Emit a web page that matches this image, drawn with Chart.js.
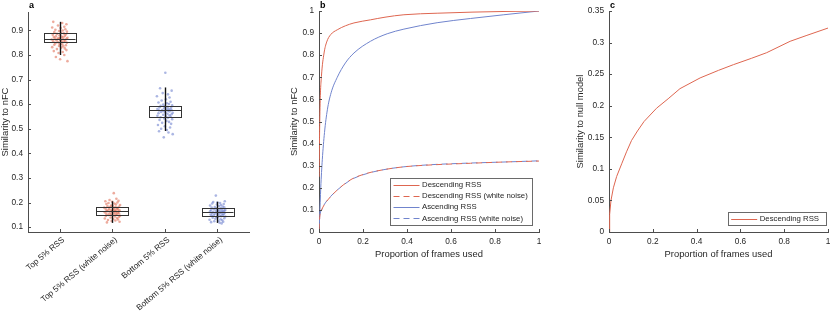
<!DOCTYPE html>
<html><head><meta charset="utf-8">
<script src="https://cdn.jsdelivr.net/npm/chart.js@4.4.1/dist/chart.umd.min.js"></script>
<style>
html,body{margin:0;padding:0;background:#fff;}
#wrap{position:relative;width:830px;height:319px;overflow:hidden;background:#fff;}
canvas{position:absolute;top:0;}
</style></head><body>
<div id="wrap">
<canvas id="ca" width="270" height="319" style="left:0px"></canvas>
<canvas id="cb" width="280" height="319" style="left:270px"></canvas>
<canvas id="cc" width="280" height="319" style="left:550px"></canvas>
</div>
<script>
// ---------- Panel a data ----------
const categories = ["Top 5% RSS", "Top 5% RSS (white noise)", "Bottom 5% RSS", "Bottom 5% RSS (white noise)"];
const catPositions = [1, 2, 3, 4];
const boxQ1  = [0.850, 0.148, 0.547, 0.147];
const boxMed = [0.867, 0.167, 0.575, 0.162];
const boxQ3  = [0.888, 0.181, 0.592, 0.178];
const boxLo  = [0.800, 0.117, 0.491, 0.117];
const boxHi  = [0.935, 0.205, 0.668, 0.203];
const jitter = [-0.12,0.05,0.13,-0.03,0.09,-0.14,0.02,0.11,-0.08,0.06,-0.01,0.14,-0.1,0.03,0.08,-0.05,0.12,-0.13,0.0,0.1,-0.07,0.04,-0.11,0.07,0.15,-0.02,0.01,-0.09,0.13,-0.04,0.06,-0.15,0.09,0.02,-0.06,0.11,-0.12,0.04,0.08,-0.03,0.14,-0.08,0.0,0.05,-0.1,0.12,-0.01,0.07,-0.14,0.03,0.1,-0.05,0.13,-0.11,0.06,-0.02,0.09,-0.07,0.01,0.15];
const topRSS = [0.935,0.93,0.925,0.92,0.915,0.912,0.91,0.905,0.903,0.9,0.898,0.895,0.893,0.89,0.888,0.886,0.884,0.882,0.88,0.878,0.876,0.875,0.873,0.872,0.87,0.869,0.868,0.867,0.866,0.865,0.864,0.863,0.862,0.86,0.859,0.857,0.856,0.855,0.853,0.852,0.85,0.848,0.846,0.844,0.842,0.84,0.837,0.835,0.832,0.83,0.827,0.824,0.82,0.816,0.812,0.808,0.80,0.792,0.783,0.775];
const topRSSNoise = [0.238,0.215,0.21,0.207,0.205,0.203,0.2,0.198,0.196,0.194,0.192,0.19,0.188,0.186,0.185,0.183,0.182,0.181,0.179,0.178,0.176,0.175,0.174,0.172,0.171,0.17,0.169,0.168,0.167,0.166,0.165,0.164,0.163,0.162,0.161,0.16,0.158,0.157,0.156,0.155,0.153,0.152,0.151,0.15,0.149,0.148,0.146,0.145,0.143,0.141,0.139,0.137,0.135,0.133,0.131,0.129,0.127,0.125,0.122,0.119];
const bottomRSS = [0.728,0.665,0.655,0.645,0.64,0.632,0.627,0.62,0.615,0.61,0.607,0.604,0.601,0.598,0.595,0.593,0.591,0.589,0.587,0.585,0.583,0.581,0.58,0.578,0.577,0.576,0.575,0.574,0.573,0.571,0.57,0.568,0.566,0.565,0.563,0.561,0.559,0.557,0.555,0.553,0.551,0.549,0.547,0.545,0.542,0.539,0.536,0.532,0.528,0.524,0.52,0.515,0.51,0.505,0.5,0.495,0.49,0.485,0.478,0.465];
const bottomRSSNoise = [0.228,0.205,0.202,0.2,0.198,0.196,0.194,0.192,0.19,0.188,0.186,0.184,0.182,0.18,0.179,0.177,0.176,0.174,0.173,0.172,0.17,0.169,0.168,0.167,0.166,0.165,0.164,0.163,0.162,0.161,0.16,0.159,0.158,0.157,0.156,0.155,0.154,0.152,0.151,0.15,0.149,0.148,0.147,0.146,0.144,0.143,0.141,0.14,0.138,0.136,0.134,0.132,0.13,0.128,0.126,0.124,0.122,0.12,0.118,0.115];
const yTicksA = [0.1,0.2,0.3,0.4,0.5,0.6,0.7,0.8,0.9];

// ---------- Panel b data ----------
const descX = [0.0005,0.002,0.005,0.011,0.023,0.035,0.053,0.083,0.12,0.159,0.234,0.3,0.386,0.537,0.7,0.85,1];
const descY = [0.25,0.4,0.58,0.704,0.81,0.86,0.893,0.915,0.933,0.946,0.96,0.972,0.983,0.99,0.995,0.998,1];
const descNoiseX = [0,0.002,0.005,0.012,0.025,0.053,0.083,0.113,0.15,0.22,0.3,0.386,0.5,0.688,0.85,1];
const descNoiseY = [0.01,0.05,0.08,0.1,0.125,0.16,0.19,0.215,0.24,0.266,0.283,0.295,0.303,0.311,0.317,0.321];
const ascX = [0,0.003,0.008,0.015,0.025,0.038,0.055,0.083,0.12,0.159,0.234,0.31,0.386,0.537,0.688,0.84,1];
const ascY = [0.02,0.07,0.2,0.327,0.45,0.553,0.63,0.70,0.765,0.81,0.863,0.897,0.918,0.947,0.966,0.983,1];
const ascNoiseX = [0,0.002,0.005,0.012,0.025,0.053,0.083,0.113,0.15,0.22,0.3,0.386,0.5,0.688,0.85,1];
const ascNoiseY = [0.012,0.052,0.082,0.101,0.126,0.161,0.19,0.214,0.239,0.265,0.283,0.295,0.304,0.312,0.317,0.322];
const xTicksBC = [0,0.2,0.4,0.6,0.8,1];
const yTicksB = [0,0.1,0.2,0.3,0.4,0.5,0.6,0.7,0.8,0.9,1];

// ---------- Panel c data ----------
const nullX = [0,0.003,0.009,0.02,0.035,0.058,0.08,0.103,0.13,0.16,0.217,0.27,0.324,0.416,0.5,0.568,0.65,0.72,0.827,0.9,1];
const nullY = [0,0.028,0.05,0.07,0.088,0.108,0.127,0.145,0.16,0.175,0.196,0.211,0.227,0.244,0.256,0.265,0.275,0.284,0.302,0.311,0.323];
const yTicksC = [0,0.05,0.1,0.15,0.2,0.25,0.3,0.35];

// ---------- styling ----------
const FONT = "'Liberation Sans', Arial, Helvetica, sans-serif";
Chart.defaults.font.family = FONT;
const AXIS = '#4d4d4d', TXT = '#262626';
const RED = 'rgb(222,102,80)', BLUE = 'rgb(112,132,205)';
const RED_PT = 'rgba(220,88,60,0.5)', BLUE_PT = 'rgba(88,110,200,0.5)';
const TICK_FS = 8.3, LABEL_FS = 9.4, LEG_FS = 7.8;

const fmt = v => String(+(+v).toFixed(3));
const pts = (xs, ys) => xs.map((x, i) => ({x, y: ys[i]}));

function yScale(min, max, ticks, width) {
  return {
    type: 'linear', min, max,
    afterBuildTicks: s => { s.ticks = ticks.map(v => ({value: v})); },
    afterFit: s => { s.width = width; s.paddingTop = 0; s.paddingBottom = 0; },
    grid: {display: false, drawTicks: false},
    border: {display: true, color: AXIS, width: 1},
    ticks: {font: {size: TICK_FS}, color: TXT, padding: 5, callback: v => fmt(v)}
  };
}
function xScale(min, max, ticks, labelFn, tickOpts) {
  return {
    type: 'linear', min, max,
    afterBuildTicks: s => { s.ticks = ticks.map(v => ({value: v})); },
    afterFit: s => { s.height = 87; s.paddingLeft = 0; s.paddingRight = 0; },
    grid: {display: false, drawTicks: false},
    border: {display: true, color: AXIS, width: 1},
    ticks: Object.assign({font: {size: TICK_FS}, color: TXT, padding: 5, maxRotation: 0, minRotation: 0, autoSkip: false,
            callback: labelFn || (v => fmt(v))}, tickOpts || {})
  };
}

const deco = {
  id: 'deco',
  afterDatasetsDraw(chart, args, o) {
    const ctx = chart.ctx, xs = chart.scales.x, ys = chart.scales.y;
    if (o.box) {
      ctx.save();
      catPositions.forEach((c, i) => {
        const xl = xs.getPixelForValue(c - 0.3), xr = xs.getPixelForValue(c + 0.3), xc = xs.getPixelForValue(c);
        const q1 = ys.getPixelForValue(boxQ1[i]), q3 = ys.getPixelForValue(boxQ3[i]);
        const md = ys.getPixelForValue(boxMed[i]);
        const lo = ys.getPixelForValue(boxLo[i]), hi = ys.getPixelForValue(boxHi[i]);
        ctx.strokeStyle = '#111'; ctx.lineWidth = 1.4;
        ctx.beginPath(); ctx.moveTo(Math.round(xc)+0.5, hi); ctx.lineTo(Math.round(xc)+0.5, lo); ctx.stroke();
        ctx.strokeStyle = '#333'; ctx.lineWidth = 1;
        ctx.strokeRect(Math.round(xl)+0.5, Math.round(q3)+0.5, Math.round(xr-xl), Math.round(q1-q3));
        ctx.beginPath(); ctx.moveTo(Math.round(xl)+0.5, Math.round(md)+0.5); ctx.lineTo(Math.round(xr)+0.5, Math.round(md)+0.5); ctx.stroke();
      });
      ctx.restore();
    }
  },
  afterDraw(chart, args, o) {
    const ctx = chart.ctx, a = chart.chartArea, xs = chart.scales.x, ys = chart.scales.y;
    ctx.save();
    ctx.strokeStyle = AXIS; ctx.lineWidth = 1;
    xs.ticks.forEach(t => {
      const p = Math.round(xs.getPixelForValue(t.value)) + 0.5;
      ctx.beginPath(); ctx.moveTo(p, a.bottom); ctx.lineTo(p, a.bottom - 3); ctx.stroke();
    });
    ys.ticks.forEach(t => {
      const p = Math.round(ys.getPixelForValue(t.value)) + 0.5;
      ctx.beginPath(); ctx.moveTo(a.left, p); ctx.lineTo(a.left + 3, p); ctx.stroke();
    });
    ctx.fillStyle = '#000';
    ctx.font = 'bold 9px ' + FONT;
    ctx.textAlign = 'left'; ctx.textBaseline = 'alphabetic';
    ctx.fillText(o.letter, a.left + 1, 7.5);
    ctx.fillStyle = TXT;
    ctx.font = LABEL_FS + 'px ' + FONT;
    if (o.xlabel) {
      ctx.textAlign = 'center'; ctx.textBaseline = 'middle';
      ctx.fillText(o.xlabel, (a.left + a.right) / 2, 254);
    }
    if (o.ylabel) {
      ctx.save();
      ctx.translate(o.ylabelX, (a.top + a.bottom) / 2);
      ctx.rotate(-Math.PI / 2);
      ctx.textAlign = 'center'; ctx.textBaseline = 'middle';
      ctx.fillText(o.ylabel, 0, 0);
      ctx.restore();
    }
    if (o.legend) {
      const L = o.legend, n = L.items.length, rowH = 11.2;
      const h = n * rowH + 2;
      const right = a.right - L.right, bottom = a.bottom - L.bottom;
      const left = right - L.width, top = bottom - h;
      ctx.fillStyle = '#fff';
      ctx.fillRect(left, top, L.width, h);
      ctx.strokeStyle = '#6a6a6a'; ctx.lineWidth = 1;
      ctx.strokeRect(Math.round(left) + 0.5, Math.round(top) + 0.5, Math.round(L.width), Math.round(h));
      ctx.font = LEG_FS + 'px ' + FONT;
      ctx.textAlign = 'left'; ctx.textBaseline = 'middle';
      L.items.forEach((it, i) => {
        const cy = top + 1 + rowH / 2 + i * rowH;
        ctx.strokeStyle = it.color; ctx.lineWidth = 1;
        ctx.setLineDash(it.dash || []);
        ctx.beginPath(); ctx.moveTo(left + 3.5, Math.round(cy) + 0.5); ctx.lineTo(left + 29.5, Math.round(cy) + 0.5); ctx.stroke();
        ctx.setLineDash([]);
        ctx.fillStyle = TXT;
        ctx.fillText(it.label, left + 32, cy);
      });
    }
    ctx.restore();
  }
};
Chart.register(deco);

const baseOpts = {responsive: false, animation: false, events: []};

// ---------- Panel a ----------
const groupData = [topRSS, topRSSNoise, bottomRSS, bottomRSSNoise];
const groupColors = [RED_PT, RED_PT, BLUE_PT, BLUE_PT];
new Chart(document.getElementById('ca'), {
  type: 'scatter',
  data: {
    datasets: groupData.map((g, k) => ({
      data: g.map((y, i) => ({x: catPositions[k] + jitter[(i + k * 13) % jitter.length], y})),
      backgroundColor: groupColors[k], borderWidth: 0, pointRadius: 1.3
    }))
  },
  options: Object.assign({}, baseOpts, {
    layout: {padding: {left: 0, right: 21, top: 12, bottom: 0}},
    scales: {
      x: xScale(0.4, 4.6, catPositions, (v, i) => categories[i], {minRotation: 40, maxRotation: 40, padding: 3, labelOffset: 4}),
      y: yScale(0.08, 0.975, yTicksA, 28)
    },
    plugins: {legend: {display: false}, tooltip: {enabled: false},
      deco: {letter: 'a', ylabel: 'Similarity to nFC', ylabelX: 5.5, box: true}}
  })
});

// ---------- Panel b ----------
new Chart(document.getElementById('cb'), {
  type: 'line',
  data: {
    datasets: [
      {label: 'Descending RSS', data: pts(descX, descY), borderColor: RED, borderWidth: 1},
      {label: 'Descending RSS (white noise)', data: pts(descNoiseX, descNoiseY), borderColor: RED, borderWidth: 1, borderDash: [6, 4]},
      {label: 'Ascending RSS', data: pts(ascX, ascY), borderColor: BLUE, borderWidth: 1},
      {label: 'Ascending RSS (white noise)', data: pts(ascNoiseX, ascNoiseY), borderColor: BLUE, borderWidth: 1, borderDash: [6, 4], borderDashOffset: 5}
    ].map(d => Object.assign(d, {pointRadius: 0, cubicInterpolationMode: 'monotone', fill: false}))
  },
  options: Object.assign({}, baseOpts, {
    layout: {padding: {left: 0, right: 11, top: 11, bottom: 0}},
    scales: {
      x: xScale(0, 1, xTicksBC),
      y: yScale(0, 1, yTicksB, 49)
    },
    plugins: {legend: {display: false}, tooltip: {enabled: false},
      deco: {letter: 'b', ylabel: 'Similarity to nFC', ylabelX: 24.5, xlabel: 'Proportion of frames used',
        legend: {right: 7.3, bottom: 7, width: 141.7, items: [
          {label: 'Descending RSS', color: RED},
          {label: 'Descending RSS (white noise)', color: RED, dash: [6, 4]},
          {label: 'Ascending RSS', color: BLUE},
          {label: 'Ascending RSS (white noise)', color: BLUE, dash: [6, 4]}
        ]}}}
  })
});

// ---------- Panel c ----------
new Chart(document.getElementById('cc'), {
  type: 'line',
  data: {
    datasets: [
      {label: 'Descending RSS', data: pts(nullX, nullY), borderColor: RED, borderWidth: 1, pointRadius: 0, tension: 0, fill: false}
    ]
  },
  options: Object.assign({}, baseOpts, {
    layout: {padding: {left: 0, right: 2, top: 11, bottom: 0}},
    scales: {
      x: xScale(0, 1, xTicksBC),
      y: yScale(0, 0.35, yTicksC, 59)
    },
    plugins: {legend: {display: false}, tooltip: {enabled: false},
      deco: {letter: 'c', ylabel: 'Similarity to null model', ylabelX: 30, xlabel: 'Proportion of frames used',
        legend: {right: 2.3, bottom: 6.4, width: 98, items: [
          {label: 'Descending RSS', color: RED}
        ]}}}
  })
});
</script>
</body></html>
